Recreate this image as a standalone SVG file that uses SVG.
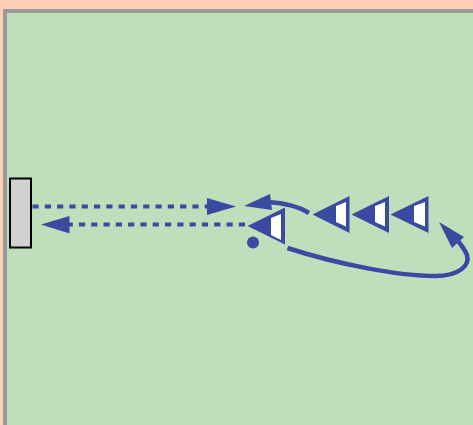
<svg xmlns="http://www.w3.org/2000/svg" width="473" height="425" viewBox="0 0 473 425">
<style>
.tri{fill:#394aa0}
.win{fill:#fff}
.line{fill:none;stroke:#394aa0;stroke-width:4}
.curve{stroke-width:4.500}
.dash{stroke-dasharray:6.2 6.1}
.head{fill:#394aa0}
</style>
<rect x="0" y="0" width="473" height="425" fill="#fdd0b5"/>
<rect x="3" y="9" width="470" height="416" fill="#999999"/>
<rect x="7" y="13" width="466" height="412" fill="#bfdfbc"/>
<g id="connectors">
<path class="line dash" d="M32.500 206.500H208"/>
<polygon class="head" points="207,198 236,206.500 207,215"/>
<path class="line dash" d="M245 224.500H69"/>
<polygon class="head" points="69.500,216 41,224.500 69.500,233.500"/>
<path class="line curve" d="M309 213C298 206 285 203 268 202"/>
<polygon class="head" points="244,206 270,194 272,210"/>
<path class="line curve" d="M287.500 248C340 265 400 276 435 276C460 276 470 265 467 255C465 250 462 246 458 241"/>
<polygon class="head" points="439,222 464,237 452,248"/>
</g>
<g id="wall"><rect x="10" y="178.500" width="21" height="69" fill="#d1d1d1" stroke="#000" stroke-width="2"/></g>
<g id="vehicle-1"><polygon class="tri" points="312.500,214.500 349.500,196 349.500,233"/><polygon class="win" points="336,206 346,202 346,226.500 336,222"/></g>
<g id="vehicle-2"><polygon class="tri" points="351.500,214.500 389,196 389,233"/><polygon class="win" points="375,206 385,202 385,226.500 375,222"/></g>
<g id="vehicle-3"><polygon class="tri" points="390.500,214.500 428.500,196 428.500,233"/><polygon class="win" points="414,206 425,202 425,226.500 414,222"/></g>
<g id="vehicle-4"><polygon class="tri" points="247.500,226 285,207.500 285,244.500"/><polygon class="win" points="271,218 281,214 281,240 271,235"/></g>
<g id="dot"><circle cx="253" cy="242.500" r="6" fill="#394aa0"/></g>
</svg>
